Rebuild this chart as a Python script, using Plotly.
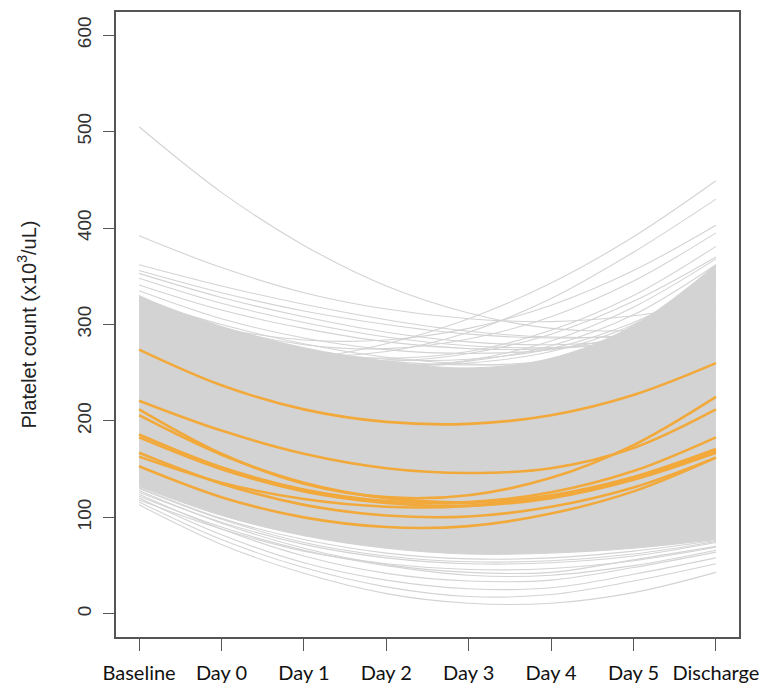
import plotly.graph_objects as go

categories = ["Baseline", "Day 0", "Day 1", "Day 2", "Day 3", "Day 4", "Day 5", "Discharge"]
y_ticks = [0, 100, 200, 300, 400, 500, 600]

# dense core of the grey spaghetti (lower and upper edges of the solid mass)
gray_core_lower = [132, 102, 81, 68, 62, 63, 68, 77]
gray_core_upper = [329, 298, 276, 262, 255, 265, 299, 362]

# individually visible grey curves above the dense mass
gray_top_lines = [
    [505, 437, 382, 340, 312, 296, 294, 305],
    [392, 359, 333, 316, 306, 303, 309, 322],
    [263, 258, 264, 280, 306, 343, 391, 449],
    [300, 278, 268, 272, 292, 327, 375, 430],
    [362, 340, 321, 305, 293, 287, 288, 297],
    [356, 333, 314, 300, 290, 286, 289, 300],
    [353, 328, 308, 292, 282, 279, 284, 297],
    [348, 322, 302, 287, 278, 276, 282, 296],
    [341, 315, 296, 282, 275, 275, 283, 300],
    [320, 296, 284, 284, 296, 320, 356, 403],
    [328, 297, 279, 275, 285, 308, 345, 395],
    [330, 294, 272, 265, 272, 294, 330, 381],
    [316, 285, 267, 262, 270, 290, 324, 370],
    [325, 300, 280, 266, 259, 259, 268, 290],
    [310, 288, 272, 262, 258, 262, 276, 305],
    [300, 276, 262, 257, 262, 278, 310, 362],
    [312, 284, 266, 258, 260, 272, 300, 352],
    [322, 293, 274, 264, 264, 275, 302, 345],
    [290, 270, 258, 256, 263, 283, 318, 368],
    [335, 306, 286, 274, 270, 274, 290, 318],
]

# individually visible grey curves below the dense mass
gray_bottom_lines = [
    [113, 72, 42, 21, 11, 11, 22, 43],
    [116, 77, 48, 28, 18, 20, 34, 52],
    [120, 82, 53, 35, 26, 27, 41, 58],
    [124, 88, 60, 42, 34, 35, 48, 64],
    [128, 94, 68, 51, 43, 43, 56, 70],
    [126, 95, 72, 58, 52, 53, 60, 74],
    [118, 88, 65, 52, 46, 47, 55, 69],
    [130, 98, 74, 60, 54, 55, 62, 75],
    [122, 90, 66, 50, 40, 40, 50, 66],
    [131, 99, 77, 63, 57, 58, 65, 76],
]

# highlighted (orange) patients
orange_lines = [
    [274, 237, 212, 199, 197, 206, 227, 260],
    [221, 190, 166, 151, 146, 151, 172, 212],
    [212, 166, 135, 121, 123, 141, 175, 225],
    [206, 165, 136, 120, 116, 126, 148, 183],
    [186, 152, 129, 117, 115, 123, 142, 171],
    [183, 150, 127, 115, 112, 120, 139, 167],
    [167, 135, 113, 102, 101, 111, 131, 162],
    [163, 136, 119, 111, 112, 122, 141, 169],
    [153, 121, 100, 90, 91, 104, 127, 162],
]

GRAY = "#D3D3D3"
ORANGE = "#F2A93B"

fig = go.Figure()

fig.add_trace(go.Scatter(x=categories, y=gray_core_lower, mode="lines",
                         line=dict(color=GRAY, width=1, shape="spline"),
                         hoverinfo="skip", showlegend=False))
fig.add_trace(go.Scatter(x=categories, y=gray_core_upper, mode="lines",
                         line=dict(color=GRAY, width=1, shape="spline"),
                         fill="tonexty", fillcolor=GRAY,
                         hoverinfo="skip", showlegend=False))

for ys in gray_top_lines + gray_bottom_lines:
    fig.add_trace(go.Scatter(x=categories, y=ys, mode="lines",
                             line=dict(color=GRAY, width=1.1, shape="spline"),
                             hoverinfo="skip", showlegend=False))

for ys in orange_lines:
    fig.add_trace(go.Scatter(x=categories, y=ys, mode="lines",
                             line=dict(color=ORANGE, width=2.6, shape="spline"),
                             showlegend=False))

fig.update_layout(
    width=760, height=689,
    margin=dict(l=116, r=21, t=12, b=52, autoexpand=False),
    paper_bgcolor="white", plot_bgcolor="white",
    showlegend=False,
)

fig.update_xaxes(
    type="category", range=[-0.28, 7.28], automargin=False,
    showgrid=False, zeroline=False,
    showline=True, mirror=True, linecolor="#555555", linewidth=1.5,
    ticks="outside", ticklen=12, tickwidth=1.2, tickcolor="#555555",
    tickfont=dict(family="Lato, Open Sans, sans-serif", size=20, color="#111111"),
    ticklabelstandoff=5,
)

fig.update_yaxes(
    range=[-24, 624], tickvals=y_ticks, automargin=False,
    showgrid=False, zeroline=False,
    showline=True, mirror=True, linecolor="#555555", linewidth=1.5,
    ticks="outside", ticklen=11, tickwidth=1.2, tickcolor="#555555",
    tickangle=-90,
    tickfont=dict(family="Liberation Sans, Arial, sans-serif", size=19, color="#333333"),
    ticklabelstandoff=5,
    title=dict(text="Platelet count (x10<sup>3</sup>/uL)",
               font=dict(family="Liberation Sans, Arial, sans-serif", size=20, color="#222222"),
               standoff=32),
)

fig.write_html("out.html")
